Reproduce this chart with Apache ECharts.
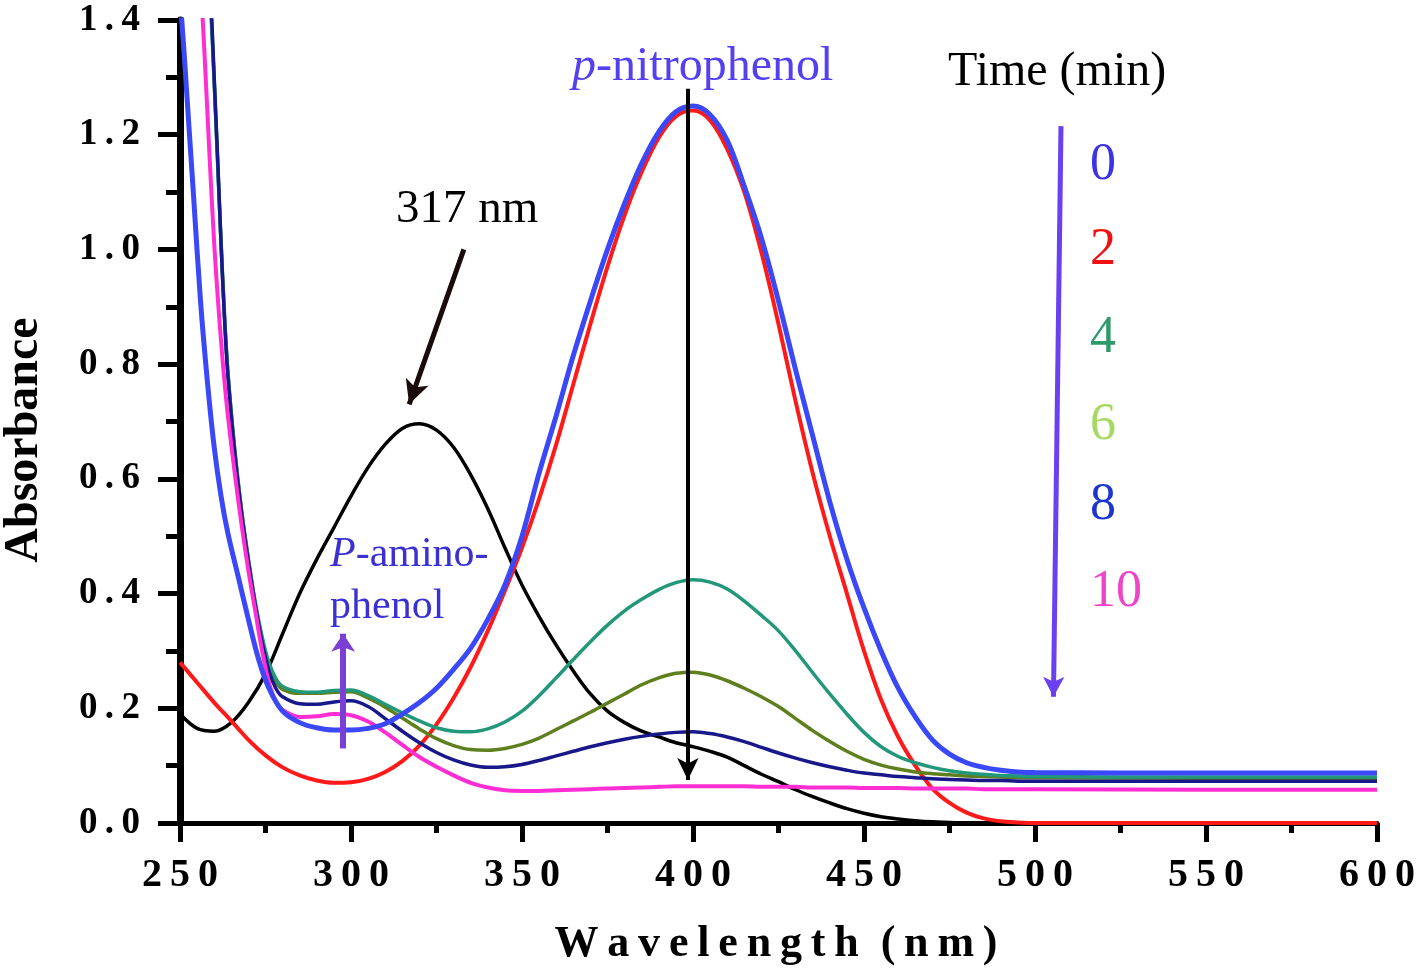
<!DOCTYPE html>
<html>
<head>
<meta charset="utf-8">
<script src="https://cdn.jsdelivr.net/npm/echarts@6/dist/echarts.min.js"></script>
<style>
html,body{margin:0;padding:0;background:#fff}
#main{width:1418px;height:977px}
</style>
</head>
<body>
<div id="main"></div>
<script>
// wavelength grids (nm)
var wl5 = [250,255,260,265,270,275,280,285,290,295,300,305,310,315,320,325,330,335,340,345,350,
    355,360,365,370,375,380,385,390,395,400,405,410,415,420,425,430,435,440,445,450,
    455,460,465,470,475,480,485,490,495,500,550,600];
var wlBlue = [250,251,252,253,254,256,258,260,262,264,267,270,273,276,
    280,285,290,295,300,305,310,315,320,325,330,335,340,345,350,355,360,365,370,375,380,
    385,390,395,400,405,410,415,420,425,430,435,440,445,450,455,460,465,470,475,480,
    485,490,495,500,550,600];
var wlSteep = [256,257,258,259,260,261,262,263,264,266,268,270,272,274,276,278,
    280,285,290,295,300,305,310,315,320,325,330,335,340,345,350,355,360,365,370,375,380,
    385,390,395,400,405,410,415,420,425,430,435,440,445,450,455,460,465,470,475,480,
    485,490,495,500,550,600];

// absorbance values
var absBlack = [0.19,0.165,0.16,0.175,0.21,0.26,0.33,0.40,0.46,0.515,0.57,
    0.62,0.66,0.688,0.696,0.685,0.655,0.607,0.548,0.48,0.415,
    0.36,0.31,0.265,0.225,0.195,0.175,0.16,0.15,0.14,0.133,
    0.125,0.115,0.10,0.085,0.072,0.058,0.046,0.035,0.025,0.017,
    0.011,0.007,0.004,0.002,0.001,0,0,0,0,0,0,0];
var absT0 = [1.44,1.36,1.27,1.18,1.09,0.91,0.77,0.655,0.57,0.505,0.43,0.355,0.285,0.235,
    0.195,0.175,0.166,0.162,0.162,0.165,0.173,0.19,0.21,
    0.235,0.268,0.305,0.355,0.415,0.50,0.61,0.71,0.815,0.91,
    1.00,1.08,1.15,1.205,1.24,1.25,1.235,1.19,1.11,1.02,
    0.91,0.79,0.675,0.56,0.46,0.375,0.30,0.235,0.185,0.145,
    0.12,0.105,0.097,0.092,0.089,0.088,0.087,0.087];
var absT2 = [0.28,0.245,0.21,0.178,0.145,0.118,0.097,0.083,0.074,0.07,0.071,
    0.077,0.089,0.108,0.135,0.172,0.218,0.272,0.335,0.405,0.48,
    0.565,0.66,0.765,0.87,0.97,1.06,1.135,1.195,1.232,1.242,
    1.225,1.175,1.10,0.995,0.87,0.735,0.61,0.50,0.40,0.30,
    0.215,0.15,0.10,0.06,0.035,0.018,0.008,0.003,0.001,0,0,0];
var absT4 = [1.82,1.68,1.54,1.42,1.29,1.15,1.01,0.885,0.785,0.65,0.545,0.46,0.385,0.325,0.28,0.252,
    0.238,0.229,0.228,0.231,0.232,0.222,0.207,0.192,0.178,0.166,0.16,0.159,0.164,0.176,0.195,
    0.222,0.253,0.285,0.316,0.345,0.37,0.39,0.407,0.419,0.424,0.42,0.408,0.387,0.362,0.335,
    0.30,0.262,0.225,0.19,0.158,0.133,0.116,0.105,0.097,0.091,0.087,0.085,0.083,0.082,0.081,0.08,0.08];
var absT6 = [1.83,1.69,1.55,1.43,1.295,1.155,1.015,0.888,0.787,0.652,0.545,0.46,0.383,0.322,0.275,0.247,
    0.233,0.226,0.226,0.228,0.229,0.218,0.202,0.183,0.164,0.147,0.135,0.128,0.127,0.13,0.137,
    0.148,0.163,0.178,0.193,0.209,0.225,0.241,0.253,0.261,0.263,0.258,0.248,0.235,0.22,0.203,
    0.182,0.161,0.142,0.125,0.111,0.101,0.094,0.089,0.086,0.084,0.082,0.081,0.08,0.079,0.079,0.078,0.078];
var absT8 = [1.85,1.71,1.56,1.44,1.30,1.16,1.01,0.88,0.78,0.645,0.54,0.455,0.38,0.315,0.265,0.235,
    0.22,0.208,0.207,0.211,0.213,0.203,0.182,0.16,0.14,0.123,0.11,0.101,0.097,0.098,0.102,
    0.109,0.117,0.125,0.133,0.14,0.146,0.151,0.155,0.158,0.159,0.156,0.15,0.142,0.132,0.122,
    0.113,0.105,0.098,0.092,0.087,0.084,0.081,0.079,0.077,0.076,0.075,0.074,0.074,0.073,0.073,0.073,0.073];
var absT10 = [1.47,1.36,1.24,1.12,1.01,0.92,0.84,0.77,0.71,0.61,0.52,0.44,0.37,0.30,0.245,0.212,
    0.197,0.185,0.186,0.19,0.188,0.177,0.158,0.136,0.115,0.098,0.083,0.07,0.062,0.057,0.056,
    0.056,0.057,0.058,0.059,0.06,0.061,0.062,0.063,0.064,0.064,0.064,0.064,0.064,0.063,0.063,
    0.063,0.062,0.062,0.062,0.061,0.061,0.061,0.06,0.06,0.06,0.06,0.059,0.059,0.059,0.059,0.058,0.058];

var timeLabels = ['0','2','4','6','8','10'];
var timeColors = ['#3c32e6','#ee1111','#2e9a6a','#a6d862','#1c34d0','#ee44cc'];

var serif = '"Liberation Serif", "Times New Roman", serif';

function pairs(xs, ys){
    var out = [];
    for (var i = 0; i < xs.length; i++) {
        out.push([xs[i], ys[i]]);
    }
    return out;
}

function curve(name, xs, ys, color, width){
    return {
        name: name,
        type: 'line',
        data: pairs(xs, ys),
        showSymbol: false,
        smooth: 0.35,
        silent: true,
        lineStyle: {color: color, width: width},
        itemStyle: {color: color}
    };
}

// arrows drawn in data coordinates
function arrow(from, to, color, width, size){
    return {
        type: 'line',
        data: [],
        silent: true,
        markLine: {
            silent: true,
            symbol: ['none', 'arrow'],
            symbolSize: size,
            label: {show: false},
            lineStyle: {color: color, width: width, type: 'solid'},
            emphasis: {disabled: true},
            data: [[{coord: from}, {coord: to}]]
        }
    };
}

var spaced = function(s){ return String(s).split('').join('\u2009'); };

var graphics = [
    {type: 'text', x: 396, y: 210, style: {text: '317 nm', font: '47px ' + serif, fill: '#000', verticalAlign: 'middle'}},
    {type: 'text', x: 572, y: 67, style: {
        text: '{i|p}-nitrophenol', font: '48px ' + serif, fill: '#5440f0', verticalAlign: 'middle',
        rich: {i: {fontStyle: 'italic', fontSize: 48, fontFamily: serif, fill: '#5440f0'}}}},
    {type: 'text', x: 948, y: 72, style: {text: 'Time (min)', font: '48px ' + serif, fill: '#000', verticalAlign: 'middle'}},
    {type: 'text', x: 330, y: 555, style: {
        text: '{i|P}-amino-', font: '42px ' + serif, fill: '#3a30d4', verticalAlign: 'middle',
        rich: {i: {fontStyle: 'italic', fontSize: 42, fontFamily: serif, fill: '#3a30d4'}}}},
    {type: 'text', x: 330, y: 607, style: {text: 'phenol', font: '42px ' + serif, fill: '#3a30d4', verticalAlign: 'middle'}},
    {type: 'text', x: 25, y: 440, rotation: Math.PI / 2, style: {
        text: 'Absorbance', font: 'bold 48px ' + serif, fill: '#000', align: 'center', verticalAlign: 'middle'}},
    {type: 'text', x: 776, y: 945, style: {
        text: spaced('Wavelength') + '  ' + spaced('(nm)'), font: 'bold 44px ' + serif, fill: '#000',
        align: 'center', verticalAlign: 'middle'}}
];
var legendY = [165, 250, 338, 425, 505, 592];
for (var k = 0; k < timeLabels.length; k++) {
    graphics.push({type: 'text', x: 1090, y: legendY[k], style: {
        text: timeLabels[k], font: '52px ' + serif, fill: timeColors[k], verticalAlign: 'middle'}});
}

var chart = echarts.init(document.getElementById('main'));
chart.setOption({
    animation: false,
    backgroundColor: '#fff',
    grid: {left: 180, right: 37, top: 20, bottom: 154},
    xAxis: {
        type: 'value', min: 250, max: 600, interval: 50,
        axisLine: {onZero: false, lineStyle: {color: '#000', width: 5}},
        axisTick: {inside: false, length: 19, lineStyle: {color: '#000', width: 5}},
        minorTick: {show: true, splitNumber: 2, length: 10, lineStyle: {color: '#000', width: 5}},
        splitLine: {show: false},
        axisLabel: {margin: 33, color: '#000', fontFamily: serif, fontWeight: 'bold', fontSize: 40, formatter: spaced}
    },
    yAxis: {
        type: 'value', min: 0, max: 1.4, interval: 0.2,
        axisLine: {show: true, lineStyle: {color: '#000', width: 7}},
        axisTick: {show: true, inside: false, length: 22, lineStyle: {color: '#000', width: 5}},
        minorTick: {show: true, splitNumber: 2, length: 14, lineStyle: {color: '#000', width: 5}},
        splitLine: {show: false},
        axisLabel: {margin: 40, color: '#000', fontFamily: serif, fontWeight: 'bold', fontSize: 37,
            formatter: function(v){ return spaced(v.toFixed(1)); }}
    },
    series: [
        curve('black', wl5, absBlack, '#000000', 3.5),
        curve('2', wl5, absT2, '#ff1a1a', 4),
        curve('6', wlSteep, absT6, '#5f7f1e', 3.5),
        curve('4', wlSteep, absT4, '#22977a', 3.5),
        curve('8', wlSteep, absT8, '#18188a', 3.5),
        curve('10', wlSteep, absT10, '#ff2ed2', 4),
        curve('0', wlBlue, absT0, '#3a48f8', 5),
        arrow([398.5, 1.28], [398.5, 0.075], '#000', 4, [16, 22]),
        arrow([333, 1.0], [317, 0.73], '#1a0a0a', 5, [18, 24]),
        arrow([297.7, 0.13], [297.7, 0.33], '#7b3fd6', 6, [18, 18]),
        arrow([507.6, 1.215], [505.4, 0.22], '#6a40f0', 5, [16, 20])
    ],
    graphic: graphics
});
</script>
</body>
</html>
